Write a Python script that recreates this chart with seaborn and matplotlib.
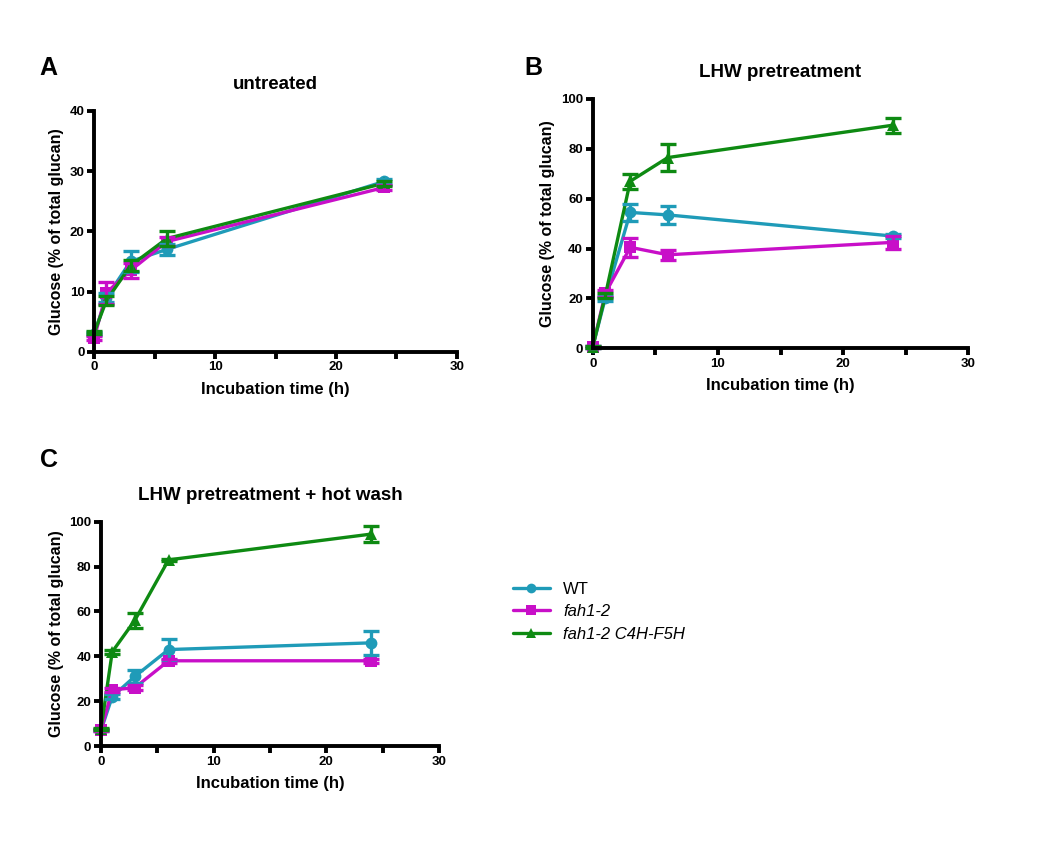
import pandas as pd
import seaborn as sns
import matplotlib.pyplot as plt
from matplotlib.lines import Line2D
from matplotlib.ticker import MultipleLocator

# incubation time points (h)
time_h = [0, 1, 3, 6, 24]
genotypes = ["WT", "fah1-2", "fah1-2 C4H-F5H"]

# A: untreated  (mean, error)
a_wt = [3.0, 9.0, 15.0, 17.0, 28.3]
a_wt_err = [0.3, 0.8, 1.7, 0.9, 0.4]
a_fah = [2.3, 9.8, 13.5, 18.3, 27.3]
a_fah_err = [0.3, 1.8, 1.2, 0.7, 0.4]
a_c4h = [3.2, 8.5, 14.3, 18.8, 28.0]
a_c4h_err = [0.3, 0.8, 0.9, 1.3, 0.4]

# B: LHW pretreatment
b_wt = [0.5, 20.0, 54.5, 53.5, 45.0]
b_wt_err = [0.3, 1.0, 3.5, 3.5, 0.8]
b_fah = [0.5, 22.0, 40.5, 37.5, 42.5]
b_fah_err = [0.3, 1.5, 3.8, 2.0, 2.5]
b_c4h = [0.5, 21.0, 67.0, 76.5, 89.5]
b_c4h_err = [0.3, 1.0, 3.0, 5.5, 3.0]

# C: LHW pretreatment + hot wash
c_wt = [7.0, 22.0, 31.0, 43.0, 46.0]
c_wt_err = [0.5, 1.0, 3.0, 4.5, 5.5]
c_fah = [7.0, 25.0, 26.0, 38.0, 38.0]
c_fah_err = [0.5, 1.0, 1.0, 1.0, 0.8]
c_c4h = [7.5, 42.0, 56.0, 83.0, 94.5]
c_c4h_err = [0.5, 1.0, 3.5, 0.5, 3.5]

colors = {"WT": "#1f9bb8", "fah1-2": "#c80fc8", "fah1-2 C4H-F5H": "#0e8a12"}
markers = {"WT": "o", "fah1-2": "s", "fah1-2 C4H-F5H": "^"}

sns.set_style("ticks")
plt.rcParams['font.family'] = ['Liberation Sans', 'DejaVu Sans']
plt.rcParams['font.weight'] = 'bold'
for k in ['text.color', 'axes.labelcolor', 'xtick.color', 'ytick.color', 'axes.edgecolor']:
    plt.rcParams[k] = 'black'


def make_df(wt, fah, c4h):
    rows = []
    for g, vals in zip(genotypes, [wt, fah, c4h]):
        for t, v in zip(time_h, vals):
            rows.append({"time": t, "glucose": v, "genotype": g})
    return pd.DataFrame(rows)


def draw_panel(ax, means, errs, ymax, ystep, title):
    df = make_df(*means)
    sns.lineplot(data=df, x="time", y="glucose", hue="genotype", style="genotype",
                 palette=colors, markers=markers, dashes=False, lw=2.4,
                 markersize=8.5, markeredgewidth=0, ax=ax, legend=False)
    for g, m, e in zip(genotypes, means, errs):
        ax.errorbar(time_h, m, yerr=e, fmt="none", ecolor=colors[g],
                    elinewidth=2.4, capsize=5.5, capthick=2.4)
    ax.set_xlim(0, 30)
    ax.set_ylim(0, ymax)
    ax.xaxis.set_major_locator(MultipleLocator(10))
    ax.xaxis.set_minor_locator(MultipleLocator(5))
    ax.yaxis.set_major_locator(MultipleLocator(ystep))
    for s in ["top", "right"]:
        ax.spines[s].set_visible(False)
    for s in ["left", "bottom"]:
        ax.spines[s].set_linewidth(2.8)
    ax.tick_params(which="both", direction="out", width=2.8, labelsize=9.5, pad=2)
    ax.tick_params(which="major", length=5)
    ax.tick_params(which="minor", length=5)
    ax.set_xlabel("Incubation time (h)", fontsize=12, fontweight="bold", labelpad=6)
    ax.set_ylabel("Glucose (% of total glucan)", fontsize=11.5, fontweight="bold", labelpad=4)
    ax.set_title(title, fontsize=13.5, fontweight="bold", pad=16)
    for lab in ax.get_xticklabels() + ax.get_yticklabels():
        lab.set_fontweight("bold")
    for art in ax.lines + ax.collections:
        art.set_clip_on(False)


fig = plt.figure(figsize=(10.42, 8.46), dpi=100)
ax_a = fig.add_axes([0.0905, 0.5843, 0.348, 0.2845])
ax_b = fig.add_axes([0.5688, 0.5883, 0.3605, 0.2947])
ax_c = fig.add_axes([0.0969, 0.1182, 0.3244, 0.2651])

draw_panel(ax_a, [a_wt, a_fah, a_c4h], [a_wt_err, a_fah_err, a_c4h_err], 40, 10, "untreated")
draw_panel(ax_b, [b_wt, b_fah, b_c4h], [b_wt_err, b_fah_err, b_c4h_err], 100, 20, "LHW pretreatment")
draw_panel(ax_c, [c_wt, c_fah, c_c4h], [c_wt_err, c_fah_err, c_c4h_err], 100, 20, "LHW pretreatment + hot wash")

fig.text(0.038, 0.92, "A", fontsize=18, fontweight="bold", va="center")
fig.text(0.503, 0.92, "B", fontsize=18, fontweight="bold", va="center")
fig.text(0.038, 0.456, "C", fontsize=18, fontweight="bold", va="center")

handles = [Line2D([0], [0], color=colors[g], marker=markers[g], lw=2.4,
                  markersize=7, markeredgewidth=0) for g in genotypes]
leg = fig.legend(handles, genotypes, loc="upper left", bbox_to_anchor=(0.478, 0.33),
                 frameon=False, fontsize=12, handlelength=2.2, labelspacing=0.45)
for i, txt in enumerate(leg.get_texts()):
    txt.set_fontweight("normal")
    if i > 0:
        txt.set_fontstyle("italic")

fig.savefig("out.png", dpi=100)
